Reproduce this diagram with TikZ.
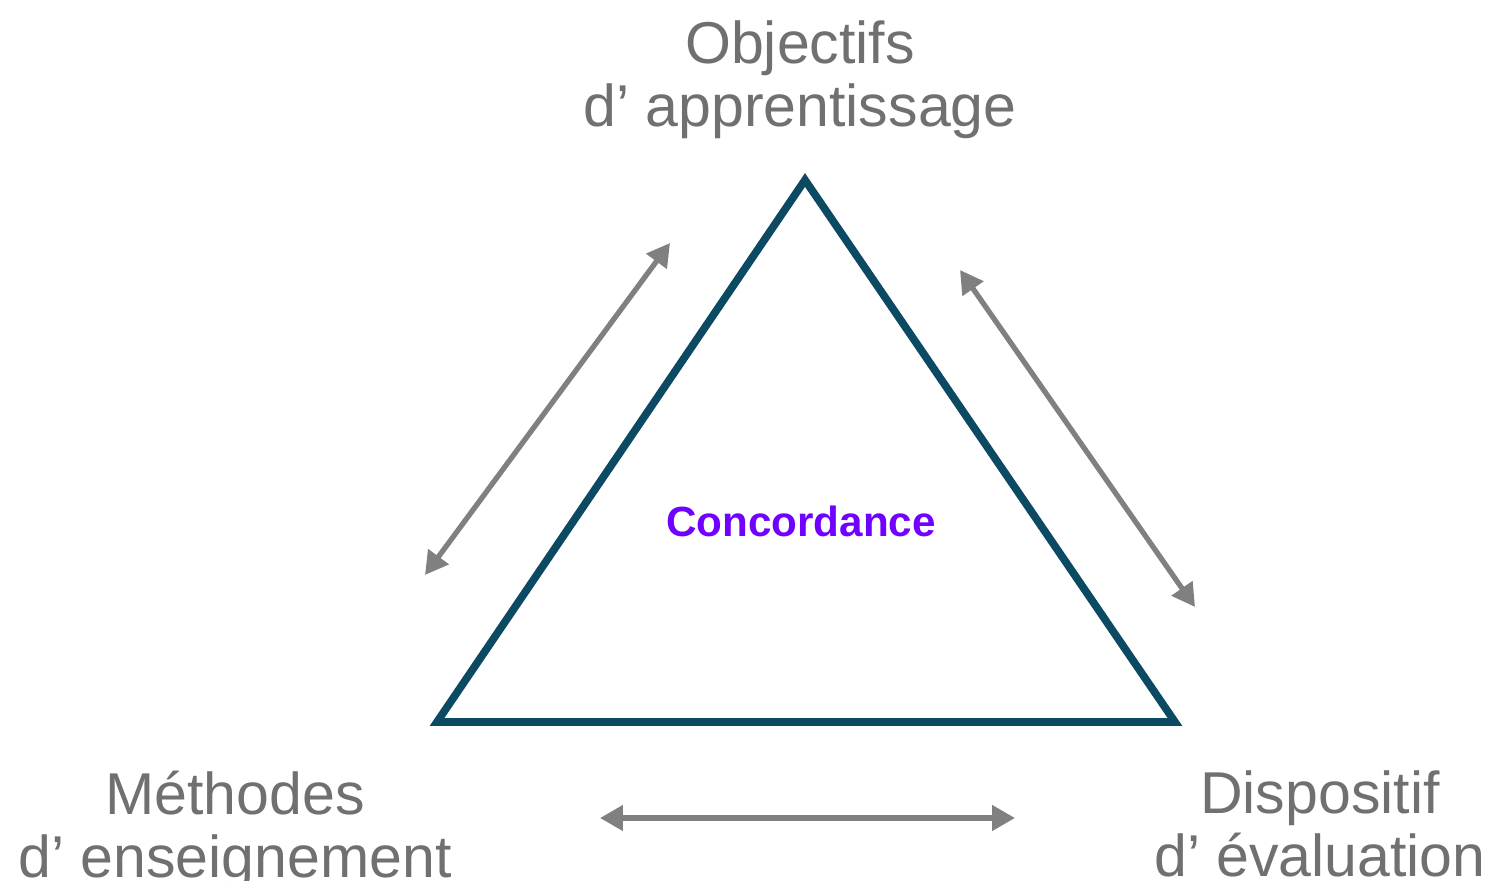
\documentclass[tikz,border=0pt]{standalone}
\usepackage{fontspec}
\setmainfont{Liberation Sans}
\usetikzlibrary{arrows.meta}
\definecolor{triblue}{HTML}{0B4A62}
\definecolor{arrgray}{HTML}{808080}
\definecolor{labgray}{HTML}{707070}
\definecolor{concpurple}{HTML}{7000FF}

\begin{document}
\begin{tikzpicture}
\tikzstyle{every node}+=[inner sep=0pt]
\tikzstyle{corner}=[text=labgray,align=center,anchor=north,font=\fontsize{16.8}{17.9}\selectfont]
\tikzstyle{twoway}=[arrgray,line width=1.5pt,{Triangle[length=6.5pt,width=7pt]}-{Triangle[length=6.5pt,width=7pt]}]
\useasboundingbox (0,0) rectangle (14.92,-8.81);
% triangle
\coordinate (top) at (8.05,-1.80);
\coordinate (left) at (4.37,-7.22);
\coordinate (right) at (11.75,-7.22);
\draw [triblue,line width=2.2pt,line join=miter] (top) -- (left) -- (right) -- cycle;
\node (conc) at (8.01,-5.21) {\fontsize{12}{14}\selectfont\bfseries\color{concpurple}Concordance};
% labels
\node [corner] (obj) at (8.00,-0.20) {Objectifs\\d’ apprentissage};
\node [corner] (meth) at (2.35,-7.70) {Méthodes\\d’ enseignement};
\node [corner] (disp) at (13.20,-7.70) {Dispositif\\d’ évaluation};
% arrows
\coordinate (a1) at (4.25,-5.75);
\coordinate (a2) at (6.70,-2.43);
\coordinate (b1) at (9.60,-2.70);
\coordinate (b2) at (11.95,-6.07);
\coordinate (c1) at (6.00,-8.18);
\coordinate (c2) at (10.15,-8.18);
\draw [twoway] (a1) -- (a2);
\draw [twoway] (b1) -- (b2);
\draw [twoway] (c1) -- (c2);
\end{tikzpicture}
\end{document}
